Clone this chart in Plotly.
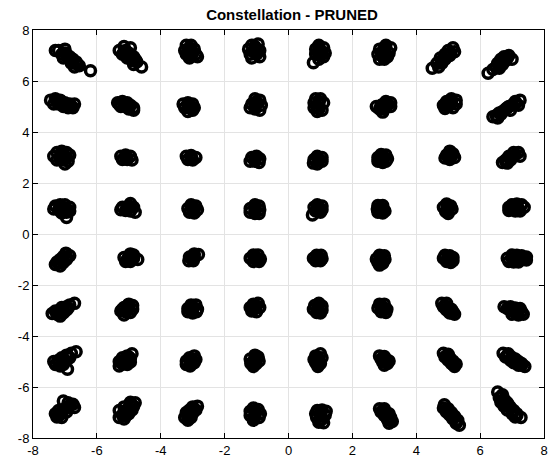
import plotly.graph_objects as go

# Received symbols (I, Q), grouped by constellation row
row_q7 = [
    (-7.2,7.2),(-7.0,7.25),(-7.1,7.05),(-6.95,7.05),(-6.9,6.9),(-6.75,6.85),(-6.8,6.7),(-6.65,6.75),(-6.55,6.6),(-6.7,6.55),(-7.05,6.9),(-7.3,7.2),(-6.2,6.4),
    (-6.85,6.95),(-6.75,6.75),(-7.0,7.1),(-6.6,6.65),
    (-5.3,7.2),(-5.15,7.35),(-4.95,7.3),(-5.2,7.05),(-5.0,7.1),(-4.85,6.95),(-5.05,6.9),(-4.9,6.8),(-4.75,6.75),(-4.85,6.65),(-4.6,6.55),
    (-5.1,7.2),(-4.95,7.0),(-4.8,6.85),(-5.1,7.05),
    (-3.2,7.4),(-3.05,7.4),(-3.25,7.2),(-3.1,7.2),(-2.95,7.25),(-3.2,7.05),(-3.05,7.0),(-2.9,7.05),(-2.85,6.95),(-3.1,6.9),
    (-3.1,7.3),(-3.0,7.1),(-3.15,7.1),
    (-1.15,7.4),(-0.95,7.45),(-1.25,7.25),(-1.05,7.25),(-0.9,7.2),(-1.2,7.05),(-1.0,7.05),(-0.9,6.95),(-1.15,6.9),
    (-1.05,7.35),(-1.1,7.15),(-0.98,7.12),
    (0.95,7.4),(1.1,7.3),(0.85,7.25),(1.0,7.2),(1.15,7.1),(0.85,7.05),(1.0,7.0),(1.1,6.95),(0.95,6.85),(0.78,6.72),
    (0.95,7.3),(0.92,7.12),(1.05,7.1),
    (3.05,7.4),(3.2,7.3),(2.85,7.25),(3.0,7.2),(3.15,7.1),(2.8,7.05),(2.95,7.0),(3.1,6.95),(2.85,6.85),(3.0,6.85),
    (3.0,7.3),(2.92,7.12),(3.05,7.08),
    (5.15,7.3),(5.2,7.15),(5.0,7.2),(5.05,7.0),(4.9,7.05),(4.9,6.85),(4.75,6.9),(4.8,6.7),(4.65,6.7),(4.7,6.55),(4.5,6.5),
    (5.08,7.1),(4.95,6.95),(4.8,6.8),
    (6.9,7.0),(7.0,6.85),(6.75,6.95),(6.8,6.8),(6.65,6.85),(6.7,6.65),(6.55,6.7),(6.5,6.55),(6.6,6.5),(6.4,6.45),(6.25,6.3),
    (6.85,6.9),(6.7,6.75),(6.6,6.6),
]
row_q5 = [
    (-7.45,5.25),(-7.3,5.3),(-7.15,5.25),(-7.35,5.1),(-7.2,5.1),(-7.0,5.15),(-6.85,5.1),(-7.05,5.0),(-6.9,4.95),(-6.75,4.95),(-6.7,5.1),
    (-7.25,5.2),(-7.1,5.1),(-6.95,5.05),(-6.8,5.02),
    (-5.35,5.15),(-5.2,5.2),(-5.05,5.15),(-5.25,5.0),(-5.1,5.0),(-4.95,5.05),(-4.85,4.95),(-5.0,4.9),(-4.85,4.85),
    (-5.15,5.1),(-5.0,5.05),(-5.3,5.08),
    (-3.3,5.1),(-3.15,5.15),(-3.0,5.1),(-3.25,4.95),(-3.1,4.95),(-2.95,4.95),(-3.15,4.8),(-3.0,4.85),
    (-3.15,5.05),(-3.05,4.98),
    (-1.05,5.3),(-0.9,5.25),(-1.15,5.1),(-1.0,5.1),(-0.85,5.05),(-1.2,4.95),(-1.05,4.9),(-0.9,4.85),
    (-1.0,5.2),(-1.05,5.0),
    (0.85,5.3),(1.0,5.3),(0.8,5.15),(0.95,5.1),(1.1,5.15),(0.8,4.95),(0.95,4.9),(1.05,4.85),(0.9,4.8),
    (0.95,5.2),(0.9,5.0),
    (3.05,5.2),(3.2,5.15),(2.9,5.05),(3.05,5.05),(3.2,5.0),(2.75,5.0),(2.85,4.9),(3.0,4.9),(2.95,4.78),
    (3.0,5.12),(2.95,4.98),(3.12,5.08),
    (5.1,5.3),(5.25,5.25),(4.95,5.2),(5.1,5.15),(5.25,5.1),(4.85,5.05),(5.0,5.0),(5.15,4.95),(4.9,4.92),
    (5.1,5.22),(5.05,5.08),(4.95,5.08),
    (7.25,5.25),(7.1,5.2),(7.2,5.05),(7.0,5.05),(6.9,5.0),(6.95,4.85),(6.8,4.9),(6.7,4.8),(6.6,4.75),(6.5,4.65),(6.4,4.6),(6.55,4.55),
    (7.1,5.1),(6.85,4.95),(6.65,4.7),
]
row_q3 = [
    (-7.25,3.2),(-7.1,3.25),(-6.95,3.2),(-7.35,3.05),(-7.15,3.05),(-6.95,3.0),(-6.85,3.1),(-7.25,2.9),(-7.05,2.9),(-6.9,2.85),(-7.0,2.75),
    (-7.1,3.15),(-7.05,3.02),(-7.15,2.95),
    (-5.25,3.05),(-5.1,3.1),(-4.95,3.05),(-5.2,2.92),(-5.05,2.92),(-4.9,2.9),
    (-5.1,3.0),
    (-3.2,3.05),(-3.05,3.08),(-2.9,3.0),(-3.15,2.92),(-3.0,2.9),
    (-3.05,3.0),
    (-1.15,3.0),(-1.0,3.05),(-0.9,2.95),(-1.2,2.85),(-1.05,2.85),(-0.92,2.8),
    (-1.05,2.95),
    (0.9,3.05),(1.05,3.0),(0.8,2.92),(0.95,2.88),(1.05,2.85),(0.78,2.78),(0.9,2.75),
    (0.92,2.97),
    (2.9,3.12),(3.05,3.1),(2.8,3.0),(2.95,2.98),(3.1,2.95),(2.8,2.85),(2.95,2.8),(3.05,2.85),
    (2.95,3.05),(2.88,2.9),
    (5.05,3.25),(5.15,3.15),(4.95,3.1),(5.1,3.05),(4.9,2.98),(5.05,2.92),(5.2,3.0),
    (5.05,3.15),(5.0,3.02),
    (7.2,3.2),(7.05,3.2),(7.25,3.05),(7.05,3.05),(6.9,3.05),(6.95,2.9),(6.8,2.9),(6.7,2.8),(6.85,2.78),
    (7.1,3.12),(6.95,3.0),(6.8,2.85),
]
row_q1 = [
    (-7.3,1.1),(-7.15,1.15),(-7.0,1.15),(-6.85,1.05),(-7.35,0.98),(-7.2,0.95),(-7.05,0.95),(-6.85,0.9),(-7.1,0.82),(-6.95,0.85),(-6.95,0.65),
    (-7.15,1.05),(-7.0,1.02),(-6.95,0.95),
    (-5.2,1.05),(-5.0,1.1),(-4.95,1.2),(-4.85,1.05),(-5.25,0.95),(-5.1,0.92),(-4.95,0.9),(-4.8,0.85),
    (-5.05,1.0),(-4.95,1.05),
    (-3.05,1.15),(-2.9,1.1),(-3.15,1.0),(-3.0,1.0),(-2.85,0.95),(-3.1,0.85),(-2.95,0.82),
    (-3.0,1.08),(-3.0,0.92),
    (-1.05,1.15),(-0.92,1.1),(-1.2,1.0),(-1.05,1.0),(-0.9,0.95),(-1.2,0.85),(-1.05,0.8),(-0.92,0.8),
    (-1.05,1.08),(-1.05,0.9),
    (0.9,1.15),(1.05,1.1),(0.8,1.05),(0.95,1.0),(1.05,0.95),(0.85,0.9),(1.0,0.85),(0.75,0.75),
    (0.92,1.08),(0.92,0.92),
    (2.8,1.12),(2.95,1.12),(2.78,0.98),(2.95,0.98),(3.02,0.9),(2.8,0.85),(2.95,0.82),
    (2.88,1.05),(2.88,0.9),
    (4.95,1.18),(5.08,1.1),(4.85,1.05),(5.0,1.0),(5.12,0.98),(4.92,0.88),(5.0,0.8),
    (5.0,1.1),(4.98,0.92),
    (7.0,1.15),(7.15,1.18),(7.3,1.15),(6.9,1.05),(7.05,1.02),(7.2,1.0),(7.38,1.05),(6.9,0.92),(7.1,0.9),(7.25,0.9),
    (7.1,1.08),(7.15,0.98),(6.98,0.98),
]
row_qm1 = [
    (-6.97,-0.75),(-6.85,-0.85),(-7.05,-0.88),(-6.95,-1.0),(-7.15,-1.0),(-7.05,-1.12),(-7.25,-1.1),(-7.15,-1.25),(-7.3,-1.2),
    (-6.95,-0.9),(-7.08,-1.05),(-7.2,-1.15),
    (-4.95,-0.78),(-4.85,-0.82),(-5.15,-0.92),(-5.0,-0.95),(-4.85,-0.95),(-4.72,-1.0),(-5.1,-1.08),(-4.95,-1.08),
    (-5.0,-0.88),(-4.92,-1.0),(-5.05,-1.02),
    (-2.95,-0.78),(-2.82,-0.8),(-3.1,-0.9),(-2.95,-0.92),(-3.12,-1.05),(-2.98,-1.05),
    (-2.98,-0.85),(-3.02,-0.98),
    (-1.1,-0.82),(-0.95,-0.82),(-1.2,-0.95),(-1.05,-0.95),(-0.88,-0.98),(-1.1,-1.08),(-0.92,-1.08),
    (-1.05,-0.88),(-1.0,-1.02),
    (0.88,-0.83),(1.02,-0.83),(0.78,-0.95),(0.92,-0.95),(1.05,-0.97),(0.85,-1.05),(1.0,-1.05),
    (0.92,-0.9),(0.95,-1.0),
    (2.85,-0.83),(3.0,-0.85),(2.75,-0.98),(2.9,-0.98),(3.02,-1.0),(2.8,-1.12),(2.95,-1.15),(2.85,-1.22),
    (2.9,-0.9),(2.9,-1.07),
    (4.9,-0.83),(5.05,-0.85),(5.15,-0.92),(4.85,-0.95),(5.0,-0.97),(5.15,-1.05),(4.95,-1.08),(5.08,-1.12),
    (5.0,-0.9),(5.05,-1.02),
    (7.0,-0.82),(7.15,-0.83),(7.3,-0.85),(7.45,-0.9),(6.85,-0.95),(7.0,-0.95),(7.15,-0.97),(7.3,-1.0),(7.45,-1.02),(6.9,-1.08),(7.05,-1.1),(7.2,-1.1),
    (7.08,-0.9),(7.22,-0.92),(7.38,-0.95),(7.12,-1.03),
]
row_qm3 = [
    (-6.7,-2.72),(-6.85,-2.78),(-6.95,-2.85),(-7.1,-2.88),(-6.95,-2.98),(-7.15,-3.0),(-7.3,-3.02),(-7.05,-3.1),(-7.25,-3.15),(-7.4,-3.12),(-7.15,-3.22),
    (-6.9,-2.9),(-7.05,-2.98),(-7.2,-3.08),
    (-5.0,-2.75),(-4.88,-2.8),(-5.15,-2.88),(-5.0,-2.9),(-4.88,-2.95),(-5.25,-3.02),(-5.1,-3.05),(-4.95,-3.08),(-5.15,-3.18),
    (-5.05,-2.82),(-5.05,-3.0),(-5.2,-2.95),
    (-3.05,-2.78),(-2.9,-2.78),(-3.15,-2.92),(-3.0,-2.92),(-2.85,-2.95),(-3.15,-3.05),(-3.0,-3.1),(-2.88,-3.05),
    (-3.0,-2.85),(-3.05,-3.0),
    (-1.1,-2.75),(-0.95,-2.72),(-1.2,-2.88),(-1.05,-2.88),(-0.9,-2.88),(-1.15,-3.02),(-1.0,-3.05),
    (-1.02,-2.8),(-1.08,-2.95),
    (0.95,-2.72),(0.82,-2.8),(1.05,-2.82),(0.78,-2.95),(0.92,-2.95),(1.05,-2.98),(0.88,-3.08),(1.0,-3.1),
    (0.92,-2.85),(0.95,-3.02),
    (2.85,-2.75),(3.0,-2.75),(2.8,-2.9),(2.95,-2.9),(3.08,-2.95),(2.9,-3.05),(3.05,-3.08),
    (2.92,-2.82),(2.98,-2.98),
    (4.8,-2.72),(4.95,-2.72),(4.85,-2.85),(5.0,-2.88),(5.1,-2.95),(4.95,-2.98),(5.15,-3.05),(5.05,-3.1),(5.2,-3.15),
    (4.9,-2.8),(5.05,-2.95),(5.12,-3.1),
    (6.75,-2.85),(6.95,-2.85),(7.1,-2.9),(7.25,-2.92),(6.95,-3.0),(7.1,-3.05),(7.3,-3.05),(7.0,-3.15),(7.2,-3.18),(7.35,-3.15),
    (7.02,-2.95),(7.18,-3.0),(7.12,-3.12),(6.85,-2.92),
]
row_qm5 = [
    (-6.65,-4.62),(-6.8,-4.68),(-6.95,-4.75),(-6.85,-4.85),(-7.1,-4.85),(-7.0,-4.95),(-7.2,-4.95),(-7.35,-5.0),(-7.1,-5.05),(-7.3,-5.12),(-7.15,-5.18),(-6.92,-5.3),
    (-6.9,-4.8),(-7.05,-4.9),(-7.2,-5.05),(-7.05,-5.12),
    (-4.9,-4.7),(-5.05,-4.78),(-5.2,-4.85),(-4.95,-4.88),(-5.1,-4.95),(-5.3,-5.0),(-4.95,-5.02),(-5.2,-5.1),(-5.05,-5.12),(-5.3,-5.18),
    (-5.0,-4.82),(-5.05,-4.95),(-5.15,-5.05),(-5.2,-4.98),
    (-2.95,-4.78),(-3.1,-4.85),(-2.9,-4.92),(-3.2,-4.98),(-3.05,-5.0),(-2.95,-5.05),(-3.2,-5.12),(-3.08,-5.18),
    (-3.02,-4.92),(-3.08,-5.08),
    (-1.05,-4.75),(-0.95,-4.82),(-1.2,-4.9),(-1.05,-4.92),(-0.92,-4.98),(-1.18,-5.08),(-1.02,-5.1),(-1.1,-5.2),
    (-1.05,-4.85),(-1.08,-5.0),(-1.1,-5.12),
    (1.0,-4.7),(0.85,-4.78),(1.05,-4.85),(0.8,-4.92),(0.95,-4.95),(0.85,-5.05),(1.0,-5.08),(0.92,-5.2),
    (0.92,-4.85),(0.92,-5.0),(0.92,-5.12),
    (2.85,-4.78),(3.0,-4.8),(2.9,-4.9),(3.05,-4.92),(3.15,-4.98),(2.95,-5.02),(3.1,-5.08),(3.0,-5.15),
    (2.98,-4.88),(3.02,-5.0),
    (4.85,-4.68),(5.0,-4.72),(4.9,-4.82),(5.05,-4.85),(5.0,-4.95),(5.15,-4.98),(5.1,-5.08),(5.25,-5.1),(5.2,-5.2),
    (4.95,-4.78),(5.08,-4.92),(5.15,-5.12),
    (6.72,-4.68),(6.88,-4.7),(6.8,-4.82),(6.98,-4.82),(7.1,-4.9),(6.95,-4.95),(7.2,-5.0),(7.05,-5.05),(7.3,-5.08),(7.2,-5.15),(7.4,-5.2),
    (6.88,-4.78),(7.05,-4.92),(7.15,-5.05),(7.3,-5.15),
]
row_qm7 = [
    (-7.05,-6.55),(-6.9,-6.62),(-6.75,-6.68),(-6.7,-6.8),(-6.9,-6.8),(-7.05,-6.9),(-7.2,-6.92),(-6.95,-6.98),(-7.3,-7.05),(-7.15,-7.08),(-7.25,-7.18),(-7.1,-7.2),
    (-6.85,-6.72),(-7.0,-6.85),(-7.1,-6.98),(-7.2,-7.12),
    (-4.8,-6.62),(-4.95,-6.6),(-4.85,-6.75),(-5.0,-6.8),(-5.15,-6.78),(-4.9,-6.9),(-5.1,-6.95),(-5.3,-6.92),(-5.0,-7.05),(-5.2,-7.1),(-5.3,-7.2),(-5.15,-7.25),
    (-4.92,-6.7),(-5.0,-6.9),(-5.15,-7.0),(-5.1,-7.15),
    (-2.85,-6.75),(-3.0,-6.78),(-2.9,-6.9),(-3.1,-6.9),(-3.2,-7.0),(-3.0,-7.02),(-3.15,-7.12),(-3.25,-7.2),(-3.05,-7.2),(-3.15,-7.3),
    (-3.0,-6.92),(-3.1,-7.05),(-3.15,-7.2),
    (-1.1,-6.82),(-0.95,-6.88),(-1.2,-6.95),(-1.05,-7.0),(-0.88,-7.05),(-1.2,-7.12),(-1.05,-7.15),(-0.92,-7.2),(-1.1,-7.3),
    (-1.05,-6.92),(-1.05,-7.08),(-1.08,-7.22),
    (0.9,-6.92),(1.05,-6.9),(1.18,-6.95),(0.85,-7.05),(1.0,-7.05),(1.15,-7.1),(0.88,-7.2),(1.05,-7.25),(0.95,-7.38),(1.1,-7.4),
    (1.0,-6.98),(1.0,-7.15),(1.0,-7.3),
    (2.85,-6.85),(3.0,-6.85),(2.9,-6.98),(3.05,-7.0),(3.15,-7.05),(3.0,-7.12),(3.2,-7.2),(3.1,-7.28),(3.25,-7.35),(3.15,-7.42),
    (2.95,-6.92),(3.08,-7.08),(3.15,-7.18),(3.2,-7.3),
    (4.88,-6.7),(4.85,-6.82),(5.0,-6.85),(4.95,-6.98),(5.1,-7.0),(5.05,-7.1),(5.2,-7.15),(5.15,-7.25),(5.3,-7.3),(5.25,-7.42),(5.35,-7.5),
    (4.92,-6.9),(5.05,-7.02),(5.12,-7.18),(5.25,-7.32),
    (6.55,-6.2),(6.7,-6.3),(6.6,-6.42),(6.75,-6.48),(6.65,-6.6),(6.85,-6.62),(6.75,-6.75),(6.95,-6.8),(6.85,-6.9),(7.05,-6.92),(7.0,-7.05),(7.15,-7.05),(7.1,-7.18),(7.28,-7.2),
    (6.68,-6.38),(6.75,-6.6),(6.9,-6.72),(7.0,-6.95),(7.15,-7.12),
]

tick_vals = [-8, -6, -4, -2, 0, 2, 4, 6, 8]
title_text = "Constellation - PRUNED"

all_rows = [row_q7, row_q5, row_q3, row_q1, row_qm1, row_qm3, row_qm5, row_qm7]
i_vals = [p[0] for r in all_rows for p in r]
q_vals = [p[1] for r in all_rows for p in r]

fig = go.Figure(go.Scatter(
    x=i_vals, y=q_vals, mode="markers",
    marker=dict(symbol="circle-open", size=10, color="black", line=dict(width=3.5, color="black")),
    showlegend=False, hoverinfo="skip",
))

axis_common = dict(
    range=[-8, 8], tickvals=tick_vals, ticktext=[str(v) for v in tick_vals],
    ticks="inside", ticklen=5, tickwidth=1, tickcolor="black",
    showline=True, linecolor="black", linewidth=1, mirror="ticks",
    showgrid=True, gridcolor="#e3e3e3", gridwidth=1, zeroline=False,
    tickfont=dict(family="Liberation Sans, Arial, sans-serif", size=13, color="black"),
)
fig.update_xaxes(**axis_common)
fig.update_yaxes(**axis_common)

fig.update_layout(
    width=553, height=464,
    margin=dict(l=33, r=5, t=30, b=26),
    paper_bgcolor="white", plot_bgcolor="white",
    title=dict(text="<b>" + title_text + "</b>", x=0.528, xanchor="center", y=0.968, yanchor="middle",
               font=dict(family="Liberation Sans, Arial, sans-serif", size=15, color="black")),
)

fig.write_html("out.html")
